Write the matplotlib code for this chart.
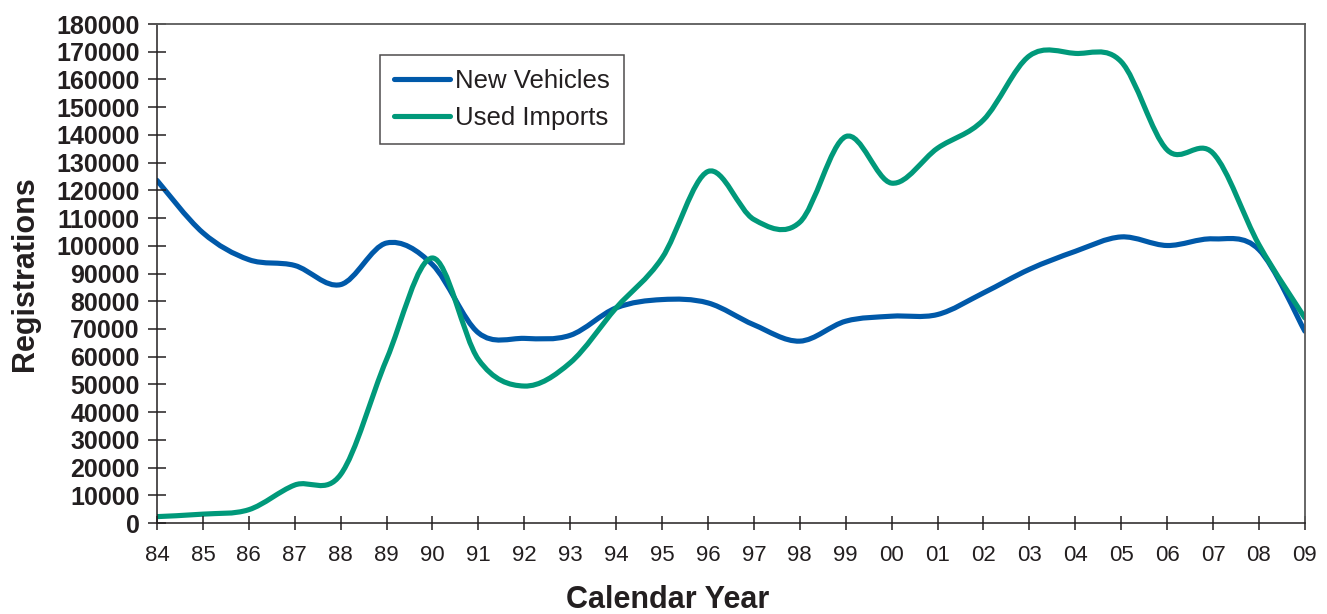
import numpy as np
import matplotlib.pyplot as plt
from matplotlib.path import Path
from matplotlib.patches import PathPatch
from matplotlib.lines import Line2D

plt.rcParams['font.family'] = ['Liberation Sans', 'DejaVu Sans']

years = np.arange(1984, 2010)
year_labels = ["84", "85", "86", "87", "88", "89", "90", "91", "92", "93",
               "94", "95", "96", "97", "98", "99", "00", "01", "02", "03",
               "04", "05", "06", "07", "08", "09"]

new_vehicles = [123600, 104700, 95000, 92900, 86000, 101000, 93200, 68600,
                66600, 67700, 77600, 80600, 79400, 71500, 65600, 72800,
                74600, 75200, 83000, 91500, 98000, 103200, 100100, 102500,
                98600, 69200]
used_imports = [2300, 3200, 4800, 13700, 17500, 59000, 95600, 59000,
                49400, 57800, 77600, 95600, 126800, 109500, 108500, 139400,
                122600, 135200, 145400, 168500, 169400, 166400, 134600,
                133400, 100400, 74000]

BLUE = "#0059a9"
GREEN = "#00997a"
INK = "#231f20"


def smooth_path(x, y):
    # Catmull-Rom style cubic Bezier through every point (spreadsheet "smoothed line")
    x = np.asarray(x, float)
    y = np.asarray(y, float)
    pts = np.column_stack([x, y])
    n = len(pts)
    verts = [pts[0]]
    codes = [Path.MOVETO]
    for i in range(n - 1):
        p0 = pts[max(i - 1, 0)]
        p1 = pts[i]
        p2 = pts[i + 1]
        p3 = pts[min(i + 2, n - 1)]
        c1 = p1 + (p2 - p0) / 6.0
        c2 = p2 - (p3 - p1) / 6.0
        verts += [c1, c2, p2]
        codes += [Path.CURVE4] * 3
    return Path(verts, codes)


fig = plt.figure(figsize=(13.27, 6.14), dpi=100)
ax = fig.add_axes([0.1183, 0.1482, 0.865, 0.8127])

for series, color in [(new_vehicles, BLUE), (used_imports, GREEN)]:
    patch = PathPatch(smooth_path(years, series), facecolor="none",
                      edgecolor=color, lw=3.7, capstyle="round",
                      joinstyle="round")
    ax.add_patch(patch)

ax.set_xlim(years[0], years[-1])
ax.set_ylim(0, 180000)
ax.set_xticks(years)
ax.set_xticklabels(year_labels, fontsize=16, color=INK)
ax.set_yticks(np.arange(0, 180001, 10000))
ax.set_yticklabels([str(v) for v in range(0, 180001, 10000)],
                   fontsize=18, fontweight="bold", color=INK)

ax.tick_params(axis="y", direction="inout", length=13, width=1.1,
               color=INK, pad=6)
ax.tick_params(axis="x", direction="inout", length=9.5, width=1.1,
               color=INK, pad=11)

for side in ("left", "bottom"):
    ax.spines[side].set_color(INK)
    ax.spines[side].set_linewidth(1.1)
for side in ("top", "right"):
    ax.spines[side].set_color("#5a5a5a")
    ax.spines[side].set_linewidth(1.3)

# axis titles placed in figure coordinates
fig.text(0.503, 0.009, "Calendar Year", fontsize=22, fontweight="bold",
         color=INK, ha="center", va="baseline")
fig.text(0.019, 0.554, "Registrations", fontsize=22, fontweight="bold",
         color=INK, ha="center", va="center", rotation=90)

handles = [Line2D([], [], color=BLUE, lw=3.7, solid_capstyle="round"),
           Line2D([], [], color=GREEN, lw=3.7, solid_capstyle="round")]
leg = ax.legend(handles, ["New Vehicles", "Used Imports"],
                loc="upper left", bbox_to_anchor=(0.194, 0.938),
                borderaxespad=0, fontsize=18.5, frameon=True, fancybox=False,
                handlelength=2.2, handletextpad=0.2, borderpad=0.55,
                labelspacing=0.5)
leg.get_frame().set_edgecolor(INK)
leg.get_frame().set_linewidth(1.1)
for t in leg.get_texts():
    t.set_color(INK)

fig.savefig("out.png", dpi=100)
